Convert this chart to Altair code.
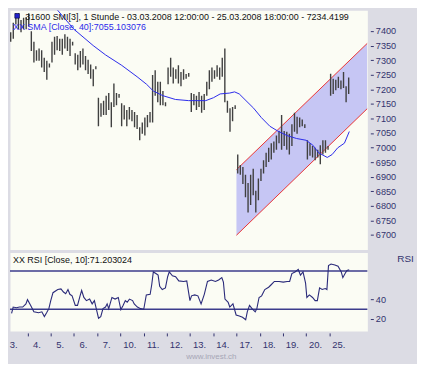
import altair as alt
import pandas as pd

# ---------------- data ----------------
days = ["3.", "4.", "5.", "6.", "7.", "10.", "11.", "12.", "13.", "14.", "17.", "18.", "19.", "20.", "25."]
first_slot = [2, 0, 0, 0, 0, 0, 0, 0, 0, 0, 0, 0, 0, 0, 0]
bars_per_day = 9

highs = [
    [7396, 7428, 7461, 7461, 7438, 7445, 7448],
    [7461, 7399, 7363, 7334, 7340, 7334, 7308, 7298, 7288],
    [7363, 7380, 7383, 7373, 7373, 7389, 7380, 7373, 7363],
    [7324, 7318, 7331, 7340, 7314, 7301, 7285, 7269, 7279],
    [7171, 7152, 7161, 7178, 7187, 7155, 7220, 7187, 7184],
    [7152, 7145, 7129, 7139, 7129, 7122, 7112, 7070, 7086],
    [7103, 7112, 7122, 7249, 7265, 7226, 7226, 7194, 7155],
    [7275, 7308, 7275, 7269, 7282, 7259, 7269, 7252, 7256],
    [7187, 7184, 7178, 7191, 7178, 7184, 7226, 7265, 7275],
    [7265, 7282, 7275, 7308, 7340, 7161, 7135, 7139, 7145],
    [6976, 6940, 6933, 6907, 6878, 6907, 6927, 6852, 6894],
    [6927, 6956, 6982, 6999, 7015, 7021, 7041, 7057, 7112],
    [7057, 7054, 7047, 7080, 7119, 7106, 7103, 7096, 7080],
    [7025, 7015, 7005, 6999, 6992, 7008, 7025, 7025, 7005],
    [7253, 7236, 7233, 7243, 7230, 7259, 7210, 7240],
]
lows = [
    [7363, 7373, 7422, 7406, 7396, 7406, 7406],
    [7415, 7331, 7292, 7298, 7298, 7275, 7259, 7233, 7275],
    [7292, 7318, 7334, 7331, 7318, 7340, 7331, 7314, 7350],
    [7285, 7265, 7275, 7285, 7265, 7252, 7236, 7210, 7269],
    [7073, 7106, 7112, 7112, 7129, 7070, 7139, 7145, 7171],
    [7073, 7096, 7073, 7096, 7090, 7070, 7064, 7025, 7047],
    [7041, 7070, 7086, 7086, 7178, 7155, 7145, 7145, 7142],
    [7217, 7243, 7220, 7236, 7220, 7210, 7233, 7236, 7243],
    [7122, 7145, 7129, 7139, 7119, 7129, 7178, 7200, 7226],
    [7236, 7243, 7233, 7243, 7155, 7119, 7054, 7090, 7132],
    [6911, 6907, 6875, 6829, 6777, 6803, 6836, 6777, 6819],
    [6885, 6911, 6933, 6950, 6959, 6982, 6992, 7015, 6992],
    [7005, 6992, 6976, 7005, 7054, 7047, 7070, 7073, 7067],
    [6959, 6972, 6966, 6956, 6966, 6943, 6976, 6982, 6992],
    [7178, 7184, 7197, 7204, 7200, 7204, 7155, 7184],
]

# SMA(40): time in trading days, value
sma_t = [2.10, 2.30, 3.00, 3.83, 4.36, 5.06, 5.72, 6.13, 6.42, 6.83, 7.37, 7.94, 8.68, 9.01,
         9.30, 9.71, 9.92, 10.12, 10.41, 10.74, 11.07, 11.44, 11.77, 12.18, 12.59, 13.00,
         13.29, 13.54, 13.91, 14.12, 14.36, 14.65, 14.86]
sma_v = [7487, 7471, 7406, 7350, 7318, 7282, 7243, 7217, 7194, 7178, 7165, 7161, 7161, 7171,
         7184, 7187, 7191, 7184, 7161, 7135, 7103, 7073, 7057, 7041, 7031, 7025,
         7008, 6982, 6966, 6976, 6999, 7015, 7055]

# trend channel
chan_t = [10.0, 15.64]
chan_upper = [6924, 7358]
chan_lower = [6699, 7134]

# RSI(10)
rsi_t = [0.316, 0.384, 0.521, 0.658, 0.795, 0.933, 1.001, 1.139, 1.276, 1.481, 1.619, 1.728,
         1.824, 1.921, 2.003, 2.099, 2.305, 2.442, 2.551, 2.647, 2.744, 2.826, 2.922, 3.059,
         3.155, 3.265, 3.333, 3.429, 3.539, 3.676, 3.786, 3.882, 3.978, 4.060, 4.156, 4.252,
         4.362, 4.431, 4.499, 4.637, 4.774, 4.911, 5.021, 5.117, 5.213, 5.295, 5.391, 5.528,
         5.597, 5.734, 5.871, 6.008, 6.118, 6.283, 6.351, 6.420, 6.530, 6.626, 6.694, 6.804,
         6.941, 7.037, 7.106, 7.243, 7.380, 7.517, 7.723, 7.860, 7.997, 8.066, 8.203, 8.340,
         8.477, 8.615, 8.752, 8.916, 9.095, 9.232, 9.369, 9.438, 9.506, 9.643, 9.712, 9.849,
         9.986, 10.123, 10.261, 10.398, 10.466, 10.563, 10.672, 10.809, 10.878, 10.974, 11.084,
         11.221, 11.386, 11.495, 11.632, 11.838, 12.016, 12.181, 12.291, 12.387, 12.524,
         12.661, 12.757, 12.867, 12.977, 13.032, 13.141, 13.278, 13.388, 13.484, 13.580,
         13.690, 13.827, 13.896, 13.964, 14.074, 14.239, 14.376, 14.513, 14.582, 14.678,
         14.760, 14.856]
rsi_v = [25.6, 32.3, 31.6, 32.3, 32.3, 35.6, 40.0, 34.0, 27.3, 26.3, 27.3, 22.3,
         26.3, 30.6, 39.0, 47.3, 50.6, 51.3, 48.0, 46.3, 50.6, 45.6, 44.0, 34.0,
         34.0, 44.0, 49.6, 42.3, 39.0, 40.6, 35.6, 39.0, 29.0, 20.6, 22.3, 30.6,
         32.3, 35.6, 30.6, 42.3, 40.6, 42.3, 29.6, 34.0, 39.0, 37.3, 40.6, 39.0,
         35.6, 32.3, 30.6, 30.0, 45.0, 45.6, 55.6, 69.0, 67.3, 65.6, 54.0, 50.6,
         52.3, 64.0, 69.0, 65.0, 64.0, 59.6, 59.0, 59.6, 39.0, 44.0, 45.0, 44.0,
         35.6, 45.6, 59.0, 60.6, 59.0, 60.6, 63.0, 58.3, 40.6, 37.3, 32.3, 35.6,
         24.0, 23.0, 21.6, 19.0, 27.3, 34.0, 30.6, 27.3, 30.6, 42.3, 44.0,
         50.6, 53.0, 55.6, 59.0, 59.0, 58.3, 59.0, 59.0, 67.3, 69.0,
         71.6, 65.6, 69.0, 57.3, 42.3, 45.0, 42.3, 39.0, 39.0, 52.3,
         50.6, 51.6, 50.6, 75.6, 77.3, 76.3, 75.0, 69.0, 63.0, 67.3,
         70.6, 71.2]
rsi_levels = [30, 70]

price_ticks = list(range(6700, 7401, 50))
rsi_ticks = [20, 40]

title_text = "31600  SMI[3], 1 Stunde - 03.03.2008 12:00:00 - 25.03.2008 18:00:00 - 7234.4199"
sma_text = "XX SMA [Close, 40]:7055.103076"
rsi_text = "XX RSI [Close, 10]:71.203024"
footer = "www.invest.ch"

# ---------------- build tables ----------------
rows = []
for k, (hs, ls) in enumerate(zip(highs, lows)):
    for i, (h, l) in enumerate(zip(hs, ls)):
        rows.append({"t": k + (first_slot[k] + i + 0.5) / bars_per_day, "high": h, "low": l})
bars_df = pd.DataFrame(rows)
sma_df = pd.DataFrame({"t": sma_t, "v": sma_v})
chan_df = pd.DataFrame({"t": chan_t, "upper": chan_upper, "lower": chan_lower})
rsi_df = pd.DataFrame({"t": rsi_t, "v": rsi_v})
lvl_df = pd.DataFrame({"v": rsi_levels})
day_df = pd.DataFrame({"t": [k + 0.41 for k in range(len(days))], "lab": days})

# ---------------- styling ----------------
W, H1, H2 = 360, 241, 79
NAVY = "#33336e"
FONT = "Liberation Sans"
xscale = alt.Scale(domain=[0.247, 15.638], nice=False, zero=False)
pscale = alt.Scale(domain=[6650, 7471], nice=False, zero=False)
rscale = alt.Scale(domain=[7.3, 89.3], nice=False, zero=False)

paxis = alt.Axis(orient="right", values=price_ticks, format="d", title=None, grid=False, domain=False,
                 tickSize=3, offset=3, labelPadding=2, tickColor=NAVY, labelColor=NAVY,
                 labelFont=FONT, labelFontSize=9.2)
xnone = alt.X("t:Q", scale=xscale, axis=None)

chan_area = alt.Chart(chan_df).mark_area(color="#c6c6f4", opacity=1, clip=True).encode(
    x=xnone, y=alt.Y("upper:Q", scale=pscale, axis=paxis), y2="lower:Q")
chan_up = alt.Chart(chan_df).mark_line(color="#ea3434", strokeWidth=1, clip=True).encode(
    x=xnone, y=alt.Y("upper:Q", scale=pscale, axis=paxis))
chan_lo = alt.Chart(chan_df).mark_line(color="#ea3434", strokeWidth=1, clip=True).encode(
    x=xnone, y=alt.Y("lower:Q", scale=pscale, axis=paxis))
bars = alt.Chart(bars_df).mark_rule(color="#404040", strokeWidth=1.4, clip=True).encode(
    x=xnone, y=alt.Y("high:Q", scale=pscale, axis=paxis), y2="low:Q")
sma = alt.Chart(sma_df).mark_line(color="#2b2bea", strokeWidth=1, clip=True).encode(
    x=xnone, y=alt.Y("v:Q", scale=pscale, axis=paxis))

one = pd.DataFrame({"a": [0]})
sq = alt.Chart(one).mark_square(size=22, color="#2222cc", stroke="#000033", strokeWidth=0.6, opacity=1).encode(
    x=alt.value(7.2), y=alt.value(5.6))
t1 = alt.Chart(one).mark_text(text=title_text, align="left", baseline="middle", font=FONT,
                              fontSize=9, color="#111111").encode(x=alt.value(15.5), y=alt.value(6.3))
t2 = alt.Chart(one).mark_text(text=sma_text, align="left", baseline="middle", font=FONT,
                              fontSize=9, color="#2b2bea").encode(x=alt.value(3), y=alt.value(17.2))

top = alt.layer(chan_area, chan_up, chan_lo, bars, sma, sq, t1, t2).properties(width=W, height=H1)

raxis = alt.Axis(orient="right", values=rsi_ticks, format="d", title="RSI", grid=False, domain=False,
                 tickSize=3, offset=3, labelPadding=2, tickColor=NAVY, labelColor=NAVY,
                 labelFont=FONT, labelFontSize=9.2, titleAngle=0, titleAlign="center",
                 titleBaseline="middle", titleX=35, titleY=6, titleFont=FONT,
                 titleFontSize=10, titleFontWeight="normal", titleColor=NAVY)
xaxis = alt.Axis(values=list(range(1, 15)), labels=False, domain=False, grid=False, ticks=True,
                 tickSize=3, offset=2, tickColor=NAVY, tickWidth=1, title=None)
xr = alt.X("t:Q", scale=xscale, axis=xaxis)

levels = alt.Chart(lvl_df).mark_rule(color="#3c3c8c", strokeWidth=1.4).encode(
    y=alt.Y("v:Q", scale=rscale, axis=raxis))
rsi_line = alt.Chart(rsi_df).mark_line(color="#2a2a7a", strokeWidth=1.1, clip=True).encode(
    x=xr, y=alt.Y("v:Q", scale=rscale, axis=raxis))
rsi_lab = alt.Chart(one).mark_text(text=rsi_text, align="left", baseline="middle", font=FONT,
                                   fontSize=9, color="#111111").encode(x=alt.value(3), y=alt.value(7.7))
day_lab = alt.Chart(day_df).mark_text(baseline="middle", align="center", font=FONT, fontSize=9.5,
                                      color=NAVY).encode(x=xr, y=alt.value(H2 + 14), text="lab:N")

bottom = alt.layer(levels, rsi_line, rsi_lab, day_lab).properties(width=W, height=H2)

chart = alt.vconcat(top, bottom, spacing=1).properties(
    background="#dcdce4",
    padding={"left": 0, "top": 0, "right": 3, "bottom": 2},
    title=alt.TitleParams(footer, orient="bottom", anchor="middle", fontSize=8, font=FONT,
                          fontWeight="normal", color="#a6a6b6", offset=3),
).configure_view(fill="#fbfcf4", stroke="transparent")

chart.save("out.html", embed_options={"renderer": "svg", "actions": False})
